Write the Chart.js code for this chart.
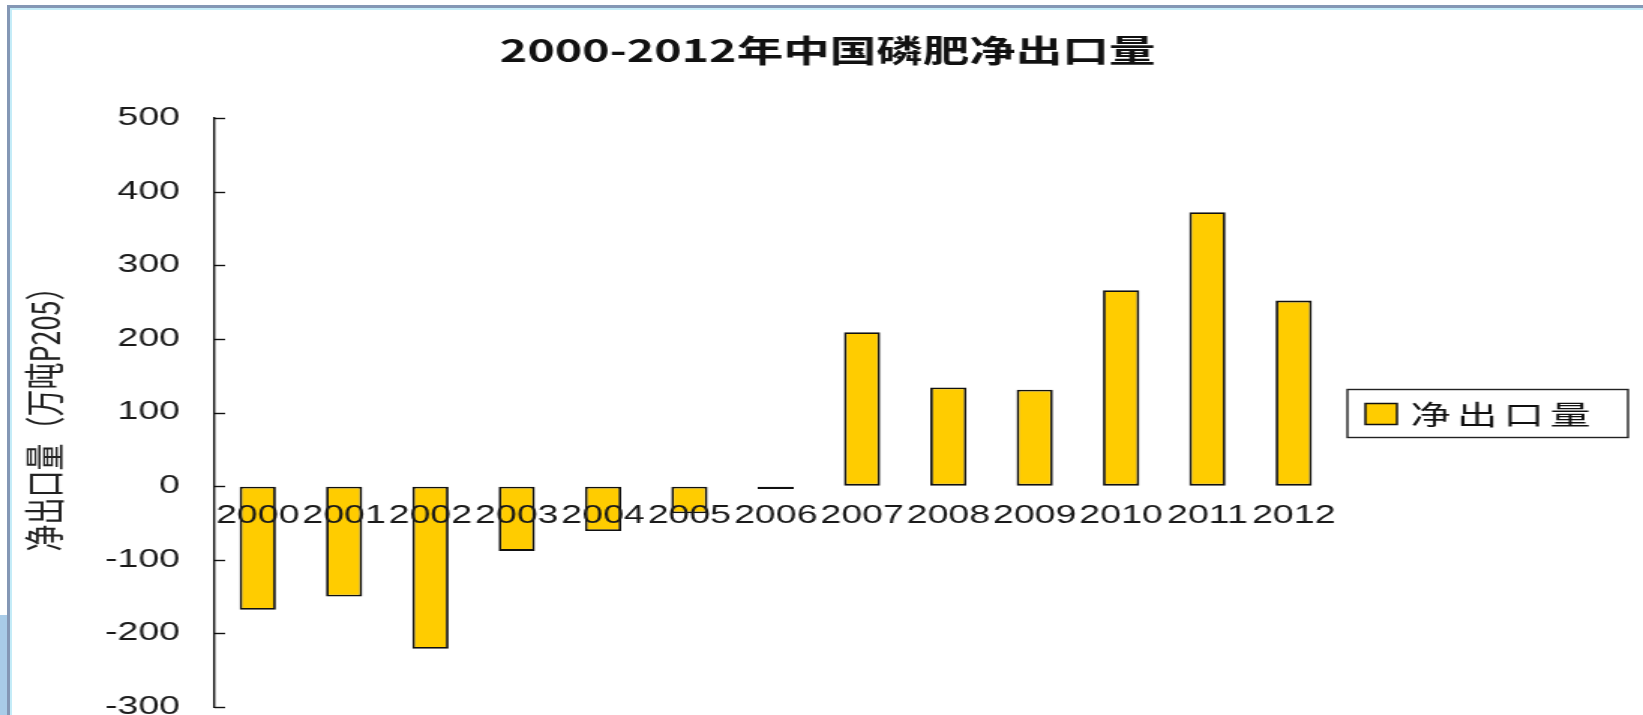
<!DOCTYPE html>
<html>
<head>
<meta charset="utf-8">
<script src="https://cdn.jsdelivr.net/npm/chart.js@4.4.0/dist/chart.umd.min.js"></script>
<style>
  body { margin: 0; background: #fff; overflow: hidden; }
  #frame { position: absolute; left: 7px; top: 5px; width: 1640px; height: 715px;
           border-top: 3px solid #8497b5; border-left: 3px solid #8497b5;
           box-shadow: inset 2px 2px 0 #c4ecf8; }
  #strip { position: absolute; left: 0; top: 615px; width: 7px; height: 100px; background: #a9cce8; }
  #chart { position: absolute; left: 0; top: 0; }
</style>
</head>
<body>
<div id="frame"></div>
<div id="strip"></div>
<!-- the original picture is stretched sideways, so the canvas is drawn narrow and scaled up by css -->
<canvas id="chart" width="1095" height="715" style="width:1643px;height:715px"></canvas>
<script>
const years = ['2000', '2001', '2002', '2003', '2004', '2005', '2006', '2007', '2008', '2009', '2010', '2011', '2012'];
const netExport = [-168, -150, -221, -88, -61, -37, -4, 209, 134, 131, 266, 372, 252];
const yTicks = [500, 400, 300, 200, 100, 0, -100, -200, -300];
const seriesName = '净出口量';
const chartTitle = '2000-2012年中国磷肥净出口量';
const yTitle = '净出口量（万吨P205）';

// title centred on the whole picture, not on the plot
const topTitle = {
  id: 'topTitle',
  afterDraw(chart) {
    const ctx = chart.ctx;
    ctx.save();
    ctx.fillStyle = '#111';
    ctx.font = 'bold 31px "Noto Sans CJK SC"';
    ctx.textAlign = 'center';
    ctx.textBaseline = 'middle';
    ctx.fillText(chartTitle, chart.width / 2 + 4, 50);
    ctx.restore();
  }
};

// small tick marks pointing into the plot
const innerTicks = {
  id: 'innerTicks',
  afterDatasetsDraw(chart) {
    const y = chart.scales.y;
    const ctx = chart.ctx;
    const x0 = chart.chartArea.left;
    ctx.save();
    ctx.strokeStyle = '#111';
    ctx.lineWidth = 1.4;
    y.ticks.forEach(t => {
      const py = Math.round(y.getPixelForValue(t.value)) + 0.5;
      ctx.beginPath();
      ctx.moveTo(x0, py);
      ctx.lineTo(x0 + 7, py);
      ctx.stroke();
    });
    ctx.restore();
  }
};

// legend with a frame round it, to the right of the plot
const boxLegend = {
  id: 'boxLegend',
  afterDraw(chart) {
    const ctx = chart.ctx;
    const ds = chart.data.datasets[0];
    const area = chart.chartArea;
    const bx = area.right + 7, bw = 187, bh = 48;
    const by = (area.top + area.bottom) / 2 - bh / 2 + 1;
    ctx.save();
    ctx.strokeStyle = '#222';
    ctx.lineWidth = 1.4;
    ctx.strokeRect(bx, by, bw, bh);
    ctx.fillStyle = ds.backgroundColor;
    ctx.fillRect(bx + 12, by + 14, 21, 21);
    ctx.strokeStyle = '#111';
    ctx.lineWidth = 1.5;
    ctx.strokeRect(bx + 12, by + 14, 21, 21);
    ctx.fillStyle = '#111';
    ctx.font = '27px "Noto Sans CJK SC"';
    ctx.letterSpacing = '4px';
    ctx.textBaseline = 'middle';
    ctx.fillText(ds.label, bx + 42, by + bh / 2 + 1);
    ctx.restore();
  }
};

new Chart(document.getElementById('chart'), {
  type: 'bar',
  data: {
    labels: years,
    datasets: [{
      label: seriesName,
      data: netExport,
      backgroundColor: '#FFCC00',
      borderColor: '#111',
      borderWidth: 1.8,
      borderSkipped: false,
      barPercentage: 0.42,
      categoryPercentage: 1
    }]
  },
  options: {
    responsive: false,
    animation: false,
    devicePixelRatio: 1,
    layout: { padding: { top: 118, right: 204, bottom: 8, left: 0 } },
    plugins: {
      legend: { display: false },
      tooltip: { enabled: false },
      title: { display: false }
    },
    scales: {
      x: {
        position: { y: 0 },
        grid: { display: false, drawTicks: false },
        border: { display: false },
        ticks: {
          z: 1,
          autoSkip: false, maxRotation: 0, minRotation: 0, padding: 15,
          color: '#1a1a1a',
          font: { family: '"Liberation Sans"', size: 25 }
        }
      },
      y: {
        min: -300,
        max: 500,
        afterBuildTicks(s) { s.ticks = yTicks.map(v => ({ value: v })); },
        afterFit(s) { s.width = 143; s.paddingTop = 0; s.paddingBottom = 0; },
        grid: { drawOnChartArea: false, drawTicks: false },
        border: { color: '#111', width: 1.4 },
        ticks: {
          padding: 23,
          color: '#1a1a1a',
          font: { family: '"Liberation Sans"', size: 25 }
        },
        title: {
          display: true,
          text: yTitle,
          color: '#222',
          font: { family: '"Noto Sans CJK SC"', size: 27 },
          padding: { top: 14, bottom: 0 }
        }
      }
    }
  },
  plugins: [innerTicks, boxLegend, topTitle]
});
</script>
</body>
</html>
